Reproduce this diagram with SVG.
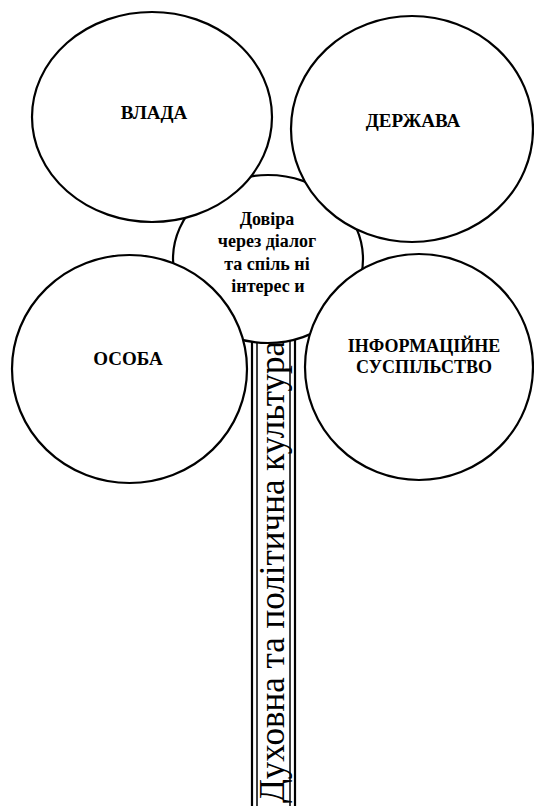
<svg xmlns="http://www.w3.org/2000/svg" width="534" height="806" viewBox="0 0 534 806">
<style>
.petal{fill:#fff;stroke:#000;stroke-width:2.2}
.lbl{font-family:'Liberation Serif','DejaVu Serif',serif;font-weight:bold;font-size:19px;fill:#000;text-anchor:middle}
.clbl{font-family:'Liberation Serif','DejaVu Serif',serif;font-weight:bold;font-size:18px;fill:#000;text-anchor:middle}
.stemtxt{font-family:'Liberation Serif','DejaVu Serif',serif;font-size:35px;fill:#000}
</style>
<rect width="534" height="806" fill="#fff"/>
<g id="stem">
<rect x="252" y="330" width="43" height="490" fill="#fff" stroke="#000" stroke-width="2.2"/>
<rect x="257" y="330" width="33" height="490" fill="none" stroke="#000" stroke-width="1.5"/>
<text class="stemtxt" font-family="Liberation Serif" transform="translate(284,803) rotate(-90)" x="0" y="0">Духовна та політична культура</text>
</g>
<g id="centre">
<ellipse class="petal" cx="268" cy="259" rx="95" ry="84"/>
</g>
<g id="vlada">
<ellipse class="petal" cx="152" cy="117" rx="120" ry="105"/>
<text class="lbl" x="154" y="119">ВЛАДА</text>
</g>
<g id="derzhava">
<ellipse class="petal" cx="412" cy="129" rx="121" ry="113"/>
<text class="lbl" x="413" y="127">ДЕРЖАВА</text>
</g>
<g id="osoba">
<ellipse class="petal" cx="129.5" cy="369" rx="117.5" ry="114"/>
<text class="lbl" x="128" y="365">ОСОБА</text>
</g>
<g id="infsusp">
<ellipse class="petal" cx="419" cy="367" rx="114" ry="113"/>
<text class="clbl" x="424" y="352">ІНФОРМАЦІЙНЕ</text>
<text class="clbl" x="424" y="373">СУСПІЛЬСТВО</text>
</g>
<g id="centre-label">
<text class="clbl" x="267" y="225">Довіра</text>
<text class="clbl" x="267" y="247">через  діалог</text>
<text class="clbl" x="267" y="270">та спіль ні</text>
<text class="clbl" x="268" y="292">інтерес и</text>
</g>
<g id="connectors"></g>
</svg>
